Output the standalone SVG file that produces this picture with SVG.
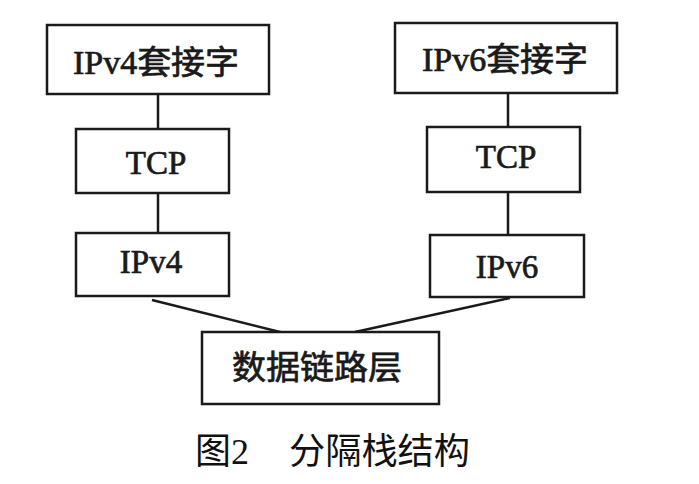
<svg xmlns="http://www.w3.org/2000/svg" width="699" height="484" viewBox="0 0 699 484">
<style>
.box{fill:#fff;stroke:#1a1a1a;stroke-width:2.5}
.lbl{font-family:"Liberation Serif","Noto Sans CJK SC",serif;font-size:33px;fill:#1a1a1a;stroke:#1a1a1a;stroke-width:0.7;text-anchor:middle}
.cap{font-family:"Liberation Serif","Noto Sans CJK SC",serif;font-size:36px;fill:#111}
.con{stroke:#1a1a1a;stroke-width:2.5;fill:none}
</style>
<rect width="699" height="484" fill="#fff"/>
<g id="connectors">
<line class="con" x1="158" y1="94" x2="158" y2="129"/>
<line class="con" x1="158" y1="193" x2="158" y2="233"/>
<line class="con" x1="508" y1="93" x2="508" y2="127"/>
<line class="con" x1="508" y1="192" x2="508" y2="235"/>
<line class="con" x1="152" y1="300" x2="284" y2="333"/>
<line class="con" x1="510" y1="298" x2="355" y2="332"/>
</g>
<g id="ipv4sock"><rect class="box" x="47" y="25" width="222" height="69"/><text class="lbl" x="156" y="74" textLength="166" lengthAdjust="spacingAndGlyphs">IPv4套接字</text></g>
<g id="tcp4"><rect class="box" x="76" y="129" width="153" height="64"/><text class="lbl" x="156" y="174">TCP</text></g>
<g id="ipv4"><rect class="box" x="76" y="233" width="153" height="63"/><text class="lbl" x="151" y="273">IPv4</text></g>
<g id="ipv6sock"><rect class="box" x="395" y="23" width="222" height="70"/><text class="lbl" x="505" y="71" textLength="166" lengthAdjust="spacingAndGlyphs">IPv6套接字</text></g>
<g id="tcp6"><rect class="box" x="427" y="127" width="153" height="65"/><text class="lbl" x="506" y="168">TCP</text></g>
<g id="ipv6"><rect class="box" x="430" y="235" width="154" height="62"/><text class="lbl" x="507" y="278">IPv6</text></g>
<g id="datalink"><rect class="box" x="202" y="332" width="237" height="72"/><text class="lbl" x="317" y="379" textLength="170" lengthAdjust="spacingAndGlyphs">数据链路层</text></g>
<g id="caption"><text class="cap" x="195" y="464">图2</text><text class="cap" x="289" y="464" textLength="181" lengthAdjust="spacingAndGlyphs">分隔栈结构</text></g>
</svg>
